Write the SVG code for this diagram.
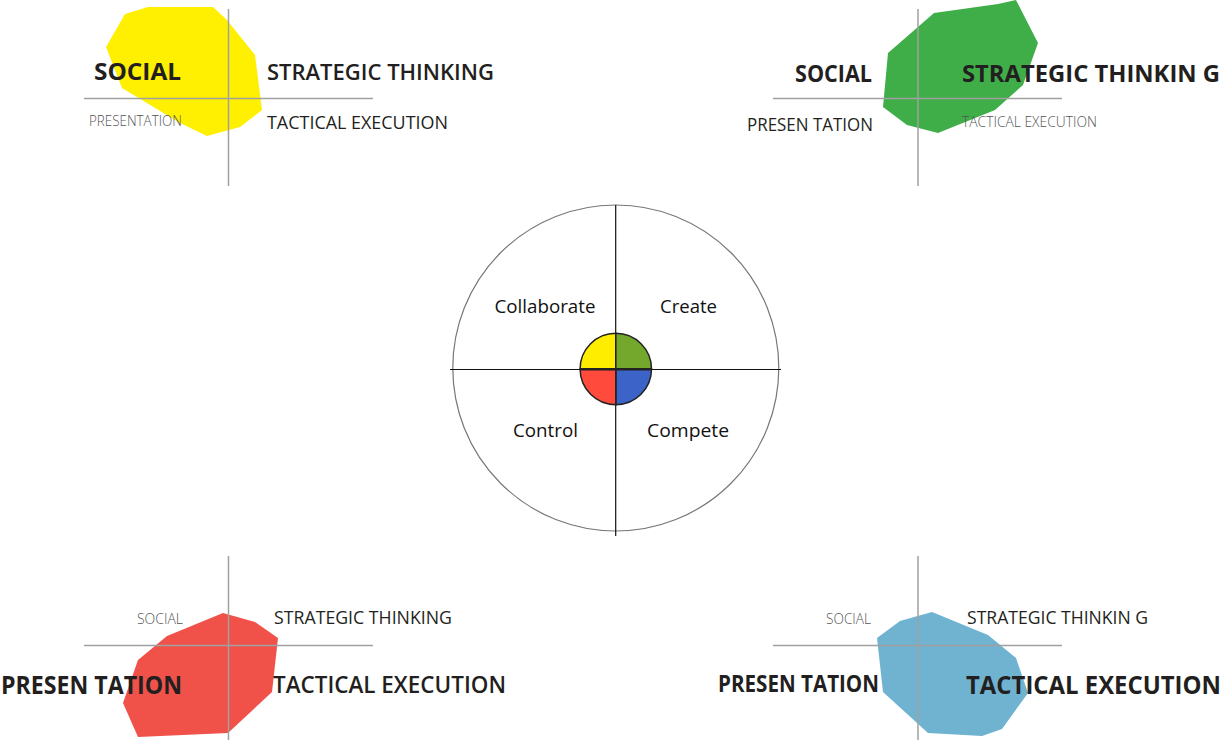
<svg xmlns="http://www.w3.org/2000/svg" width="1229" height="740" viewBox="0 0 1229 740">
<style>
.axis{stroke:#a0a0a0;stroke-width:1.5;fill:none}
.t{font-family:"Open Sans","Liberation Sans",sans-serif;fill:#231f20}
.b{font-weight:700}
.s{font-weight:600}
.r{font-weight:400}
.g{font-weight:300;fill:#555}
.lab{font-family:"Open Sans","Liberation Sans",sans-serif;font-size:18px;fill:#111}
.q{stroke:#222;stroke-width:1.5}
</style>
<rect width="1229" height="740" fill="#fff"/>

<g id="chart-collaborate">
<polygon points="125,14 148,7 213,7 227,20 255,55 262,110 240,127 207,136 180,123 122,88 106,47" fill="#ffef00"/>
<line class="axis" x1="228.5" y1="9" x2="228.5" y2="186"/>
<line class="axis" x1="84" y1="98.5" x2="373" y2="98.5"/>
<text class="t b" x="94" y="80" font-size="23" textLength="87" lengthAdjust="spacingAndGlyphs">SOCIAL</text>
<text class="t s" x="267" y="80" font-size="22" textLength="227" lengthAdjust="spacingAndGlyphs">STRATEGIC THINKING</text>
<text class="t g" x="89" y="126" font-size="14.5" textLength="93" lengthAdjust="spacingAndGlyphs">PRESENTATION</text>
<text class="t r" x="267" y="129" font-size="18.5" textLength="181" lengthAdjust="spacingAndGlyphs">TACTICAL EXECUTION</text>
</g>

<g id="chart-create">
<polygon points="934,13 998,4 1016,0 1038,43 1023,85 995,110 938,133 907,125 883,107 888,53" fill="#3fae49"/>
<line class="axis" x1="918" y1="9" x2="918" y2="186"/>
<line class="axis" x1="773" y1="98.5" x2="1062" y2="98.5"/>
<text class="t b" x="795" y="82" font-size="23" textLength="77" lengthAdjust="spacingAndGlyphs">SOCIAL</text>
<text class="t b" x="962" y="82" font-size="24" textLength="258" lengthAdjust="spacingAndGlyphs">STRATEGIC THINKIN G</text>
<text class="t r" x="747" y="130.5" font-size="18.5" textLength="126" lengthAdjust="spacingAndGlyphs">PRESEN TATION</text>
<text class="t g" x="962" y="127" font-size="14.5" textLength="135" lengthAdjust="spacingAndGlyphs">TACTICAL EXECUTION</text>
</g>

<g id="chart-control">
<polygon points="223,613 255,622 278,638 272,692 228,733 138,737 123,703 138,660 167,636" fill="#f0524a"/>
<line class="axis" x1="228.5" y1="556" x2="228.5" y2="740"/>
<line class="axis" x1="84" y1="645.5" x2="373" y2="645.5"/>
<text class="t g" x="137" y="624" font-size="14.5" textLength="46" lengthAdjust="spacingAndGlyphs">SOCIAL</text>
<text class="t r" x="274" y="624" font-size="18" textLength="178" lengthAdjust="spacingAndGlyphs">STRATEGIC THINKING</text>
<text class="t b" x="1" y="694" font-size="25" textLength="181" lengthAdjust="spacingAndGlyphs">PRESEN TATION</text>
<text class="t s" x="273" y="692.5" font-size="24" textLength="233" lengthAdjust="spacingAndGlyphs">TACTICAL  EXECUTION</text>
</g>

<g id="chart-compete">
<polygon points="932,612 988,635 1016,658 1028,693 1002,729 982,736 928,733 883,692 877,638 900,621" fill="#6fb3d0"/>
<line class="axis" x1="918" y1="556" x2="918" y2="740"/>
<line class="axis" x1="773" y1="645.5" x2="1062" y2="645.5"/>
<text class="t g" x="826" y="624" font-size="14.5" textLength="45" lengthAdjust="spacingAndGlyphs">SOCIAL</text>
<text class="t r" x="967" y="624" font-size="18" textLength="181" lengthAdjust="spacingAndGlyphs">STRATEGIC THINKIN G</text>
<text class="t b" x="718" y="692" font-size="23" textLength="161" lengthAdjust="spacingAndGlyphs">PRESEN TATION</text>
<text class="t b" x="966" y="694" font-size="24.5" textLength="255" lengthAdjust="spacingAndGlyphs">TACTICAL EXECUTION</text>
</g>

<g id="center-wheel">
<circle cx="615.8" cy="368" r="163" fill="#fff" stroke="#777" stroke-width="1.2"/>
<line x1="450" y1="369.5" x2="781" y2="369.5" stroke="#111" stroke-width="1.2"/>
<line x1="615.7" y1="205" x2="615.7" y2="536" stroke="#111" stroke-width="1.2"/>
<path class="q" d="M615.8,369 L580.1,369 A35.7,35.7 0 0 1 615.8,333.3 Z" fill="#ffed00"/>
<path class="q" d="M615.8,369 L615.8,333.3 A35.7,35.7 0 0 1 651.5,369 Z" fill="#73a82d"/>
<path class="q" d="M615.8,369 L651.5,369 A35.7,35.7 0 0 1 615.8,404.7 Z" fill="#3c64c8"/>
<path class="q" d="M615.8,369 L615.8,404.7 A35.7,35.7 0 0 1 580.1,369 Z" fill="#ff4a3c"/>
<line x1="580" y1="369.3" x2="651.7" y2="369.3" stroke="#222" stroke-width="2.2"/>
<text class="lab" x="494.5" y="313" textLength="101" lengthAdjust="spacingAndGlyphs">Collaborate</text>
<text class="lab" x="660" y="313" textLength="57" lengthAdjust="spacingAndGlyphs">Create</text>
<text class="lab" x="513" y="437" textLength="65" lengthAdjust="spacingAndGlyphs">Control</text>
<text class="lab" x="647" y="437" textLength="82" lengthAdjust="spacingAndGlyphs">Compete</text>
</g>
</svg>
